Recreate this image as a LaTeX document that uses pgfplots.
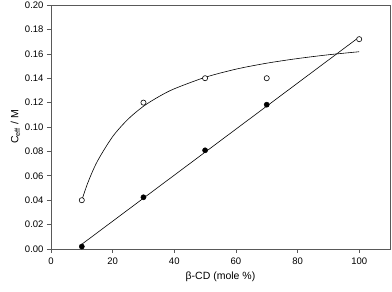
\documentclass[border=0pt]{standalone}
\usepackage{fontspec}
\setmainfont{Liberation Sans}
\usepackage{pgfplots}
\pgfplotsset{compat=1.18}
\begin{document}
\begin{tikzpicture}
\useasboundingbox (-51pt,-43pt) rectangle (341pt,249pt);
\begin{axis}[
  at={(0,0)}, anchor=south west,
  scale only axis, width=339pt, height=244pt,
  xmin=0, xmax=110, ymin=0, ymax=0.20,
  xtick={0,20,40,60,80,100},
  ytick={0,0.02,...,0.201},
  axis line style={black!65, line width=0.8pt},
  tick style={black!65, line width=0.6pt},
  tick align=outside, tick pos=left,
  major tick length=4pt,
  /pgf/number format/assume math mode=true,
  yticklabel style={/pgf/number format/fixed, /pgf/number format/fixed zerofill, /pgf/number format/precision=2, font=\fontsize{9.5}{11}\selectfont, xshift=0pt},
  xticklabel style={font=\fontsize{9.5}{11}\selectfont, yshift=-1pt},
  scaled y ticks=false,
  xlabel={\fontsize{10.5}{12}\selectfont β-CD (mole \%)},
  ylabel={\fontsize{10.5}{12}\selectfont C\textsubscript{eff} / M},
  xlabel style={yshift=-1pt},
  ylabel style={yshift=-2pt},
  clip=false,
]
% fitted saturation curve through open circles
\addplot[black, line width=0.6pt, smooth] coordinates {
(10,0.0400) (12,0.0546) (15,0.0717) (20,0.0921) (25,0.1064) (30,0.1170)
(35,0.1249) (40,0.1313) (50,0.1407) (60,0.1474) (70,0.1523) (80,0.1561)
(90,0.1592) (100,0.1617)};
% linear fit through filled circles
\addplot[black, line width=0.6pt] coordinates {(10,0.0039) (100,0.1737)};
% open circles
\addplot[only marks, mark=*, mark size=2.6pt, mark options={fill=white, draw=black, line width=0.6pt}] coordinates {
(10,0.040) (30,0.120) (50,0.140) (70,0.140) (100,0.172)};
% filled circles
\addplot[only marks, mark=*, mark size=2.6pt, mark options={fill=black, draw=black}] coordinates {
(10,0.002) (30,0.0424) (50,0.0809) (70,0.1183)};
\end{axis}
\end{tikzpicture}
\end{document}
